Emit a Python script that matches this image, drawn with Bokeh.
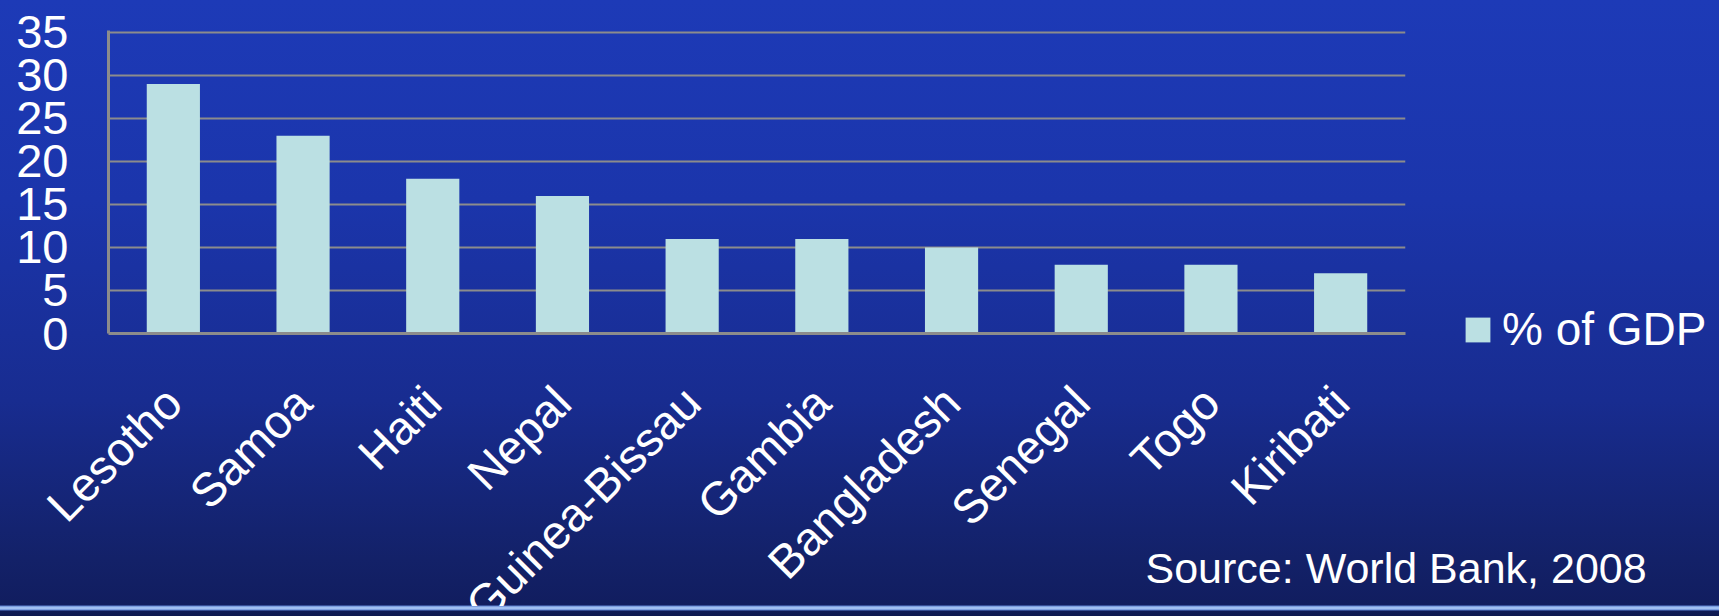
import math
from bokeh.plotting import figure
from bokeh.models import (FactorRange, Range1d, SingleIntervalTicker, Legend,
                          Label, GlobalInlineStyleSheet, ColumnDataSource)
from bokeh.embed import file_html
from bokeh.resources import INLINE

countries = ["Lesotho", "Samoa", "Haiti", "Nepal", "Guinea-Bissau",
             "Gambia", "Bangladesh", "Senegal", "Togo", "Kiribati"]
pct_gdp = [29, 23, 18, 16, 11, 11, 10, 8, 8, 7]
series_name = "% of GDP"
source_text = "Source: World Bank, 2008"

FONT = "Liberation Sans"
GRID = "#8c8c8c"
BAR = "#bbe0e3"

p = figure(frame_width=1297, frame_height=303, output_backend="svg",
           toolbar_location=None,
           x_range=FactorRange(*countries), y_range=Range1d(0, 35.23),
           min_border_left=108, min_border_right=314, min_border_top=30,
           min_border_bottom=0)
p.border_fill_alpha = 0
p.background_fill_alpha = 0
p.outline_line_color = None

src = ColumnDataSource(dict(x=countries, y=pct_gdp))
r = p.vbar(x="x", top="y", width=0.41, source=src, fill_color=BAR, line_color=None)

p.yaxis.ticker = SingleIntervalTicker(interval=5)
p.ygrid.ticker = SingleIntervalTicker(interval=5)
p.ygrid.grid_line_color = GRID
p.ygrid.grid_line_width = 2
p.xgrid.grid_line_color = None

for ax in (p.xaxis[0], p.yaxis[0]):
    ax.axis_line_color = GRID
    ax.axis_line_width = 3
    ax.major_tick_line_color = None
    ax.minor_tick_line_color = None
    ax.major_tick_out = 0
    ax.major_tick_in = 0
    ax.major_label_text_color = "white"
    ax.major_label_text_font = FONT

p.yaxis.major_label_text_font_size = "47px"
p.yaxis.major_label_standoff = 36
p.xaxis.major_label_text_font_size = "47px"
p.xaxis.major_label_orientation = math.pi / 4
p.xaxis.major_label_standoff = 61

legend = Legend(items=[(series_name, [r])], location=(57, -23),
                label_text_font=FONT, label_text_font_size="46px",
                label_text_color="white", glyph_width=31, glyph_height=31,
                label_standoff=9, padding=0, margin=0, spacing=0,
                border_line_color=None, background_fill_alpha=0)
p.add_layout(legend, "right")

p.add_layout(Label(x=-974, y=-234, x_units="screen", y_units="screen",
                   text=source_text, text_color="white",
                   text_font=FONT, text_font_size="43px",
                   text_baseline="alphabetic"), "right")

p.stylesheets = [GlobalInlineStyleSheet(css="""
html { margin: 0 !important; padding: 0 !important; overflow: hidden !important;
  height: 616px !important;
  background: linear-gradient(to bottom,
  #1d3ab7 0px, #1b35ab 200px, #182c90 400px, #132168 560px, #111d5f 605px,
  #5a7fd0 606px, #a0bff2 607px, #a0bff2 609px, #5a7fd0 610px,
  #0f1a55 611px, #0e1950 616px) no-repeat !important; }
body { margin: 0 !important; padding: 0 !important; height: 606px !important;
  overflow: hidden !important; background: transparent !important; }
""")]

open("out.html", "w").write(file_html(p, INLINE))
